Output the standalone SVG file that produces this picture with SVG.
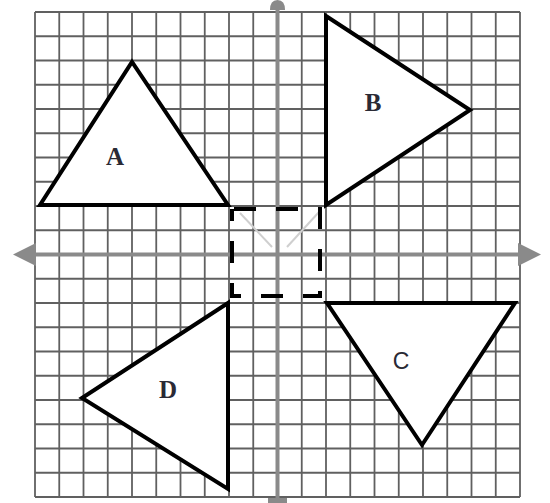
<svg xmlns="http://www.w3.org/2000/svg" width="550" height="503" viewBox="0 0 550 503">
<style>
.grid line{stroke:#606060;stroke-width:1.8}
.axis{stroke:#8a8a8a;stroke-width:4}
.head{fill:#8a8a8a}
.tri{fill:#fff;stroke:#000;stroke-width:4;stroke-linejoin:miter}
.lbl{font-family:"Liberation Serif","DejaVu Serif",serif;font-size:25px;fill:#2a2a35;text-anchor:middle;font-weight:bold}
.dash{fill:none;stroke:#000;stroke-width:4;stroke-dasharray:22 20}
.faint{stroke:#cfcfcf;stroke-width:2}
</style>
<rect width="550" height="503" fill="#fff"/>
<g class="grid" id="grid">
<line x1="35" y1="12" x2="35" y2="497"/><line x1="59.25" y1="12" x2="59.25" y2="497"/><line x1="83.5" y1="12" x2="83.5" y2="497"/><line x1="107.75" y1="12" x2="107.75" y2="497"/><line x1="132" y1="12" x2="132" y2="497"/><line x1="156.25" y1="12" x2="156.25" y2="497"/><line x1="180.5" y1="12" x2="180.5" y2="497"/><line x1="204.75" y1="12" x2="204.75" y2="497"/><line x1="229" y1="12" x2="229" y2="497"/><line x1="253.25" y1="12" x2="253.25" y2="497"/><line x1="301.75" y1="12" x2="301.75" y2="497"/><line x1="326" y1="12" x2="326" y2="497"/><line x1="350.25" y1="12" x2="350.25" y2="497"/><line x1="374.5" y1="12" x2="374.5" y2="497"/><line x1="398.75" y1="12" x2="398.75" y2="497"/><line x1="423" y1="12" x2="423" y2="497"/><line x1="447.25" y1="12" x2="447.25" y2="497"/><line x1="471.5" y1="12" x2="471.5" y2="497"/><line x1="495.75" y1="12" x2="495.75" y2="497"/><line x1="520" y1="12" x2="520" y2="497"/>
<line x1="35" y1="12" x2="520" y2="12"/><line x1="35" y1="36.25" x2="520" y2="36.25"/><line x1="35" y1="60.5" x2="520" y2="60.5"/><line x1="35" y1="84.75" x2="520" y2="84.75"/><line x1="35" y1="109" x2="520" y2="109"/><line x1="35" y1="133.25" x2="520" y2="133.25"/><line x1="35" y1="157.5" x2="520" y2="157.5"/><line x1="35" y1="181.75" x2="520" y2="181.75"/><line x1="35" y1="206" x2="520" y2="206"/><line x1="35" y1="230.25" x2="520" y2="230.25"/><line x1="35" y1="278.75" x2="520" y2="278.75"/><line x1="35" y1="303" x2="520" y2="303"/><line x1="35" y1="327.25" x2="520" y2="327.25"/><line x1="35" y1="351.5" x2="520" y2="351.5"/><line x1="35" y1="375.75" x2="520" y2="375.75"/><line x1="35" y1="400" x2="520" y2="400"/><line x1="35" y1="424.25" x2="520" y2="424.25"/><line x1="35" y1="448.5" x2="520" y2="448.5"/><line x1="35" y1="472.75" x2="520" y2="472.75"/><line x1="35" y1="497" x2="520" y2="497"/>
</g>
<g id="axes">
<line class="axis" x1="30" y1="254.5" x2="525" y2="254.5"/>
<line class="axis" x1="277.5" y1="6" x2="277.5" y2="500"/>
<polygon class="head" points="13,254.5 36,243 36,266"/>
<polygon class="head" points="541,254.5 518,243 518,266"/>
<path class="head" d="M270,10 Q270,0 277.5,0 Q285,0 285,10 Z"/>
<rect class="head" x="268" y="498" width="19" height="5"/>
</g>
<g id="connectors">
<line class="faint" x1="240" y1="213" x2="272" y2="247"/>
<line class="faint" x1="319" y1="212" x2="287" y2="247"/>
</g>
<g id="square"><rect class="dash" x="232" y="209" width="88" height="87" stroke-dashoffset="-2"/></g>
<g id="A"><polygon class="tri" points="40,205 228,205 132,62"/><text class="lbl" x="115" y="165">A</text></g>
<g id="B"><polygon class="tri" points="326,16 326,205 470,110"/><text class="lbl" x="373" y="111">B</text></g>
<g id="C"><polygon class="tri" points="327,303 515,303 422,445"/><text class="lbl" x="401" y="369" style="font-family:'Liberation Sans',sans-serif;font-size:23px;font-weight:normal">C</text></g>
<g id="D"><polygon class="tri" points="228,303 228,489 82,398"/><text class="lbl" x="168" y="398">D</text></g>
</svg>
